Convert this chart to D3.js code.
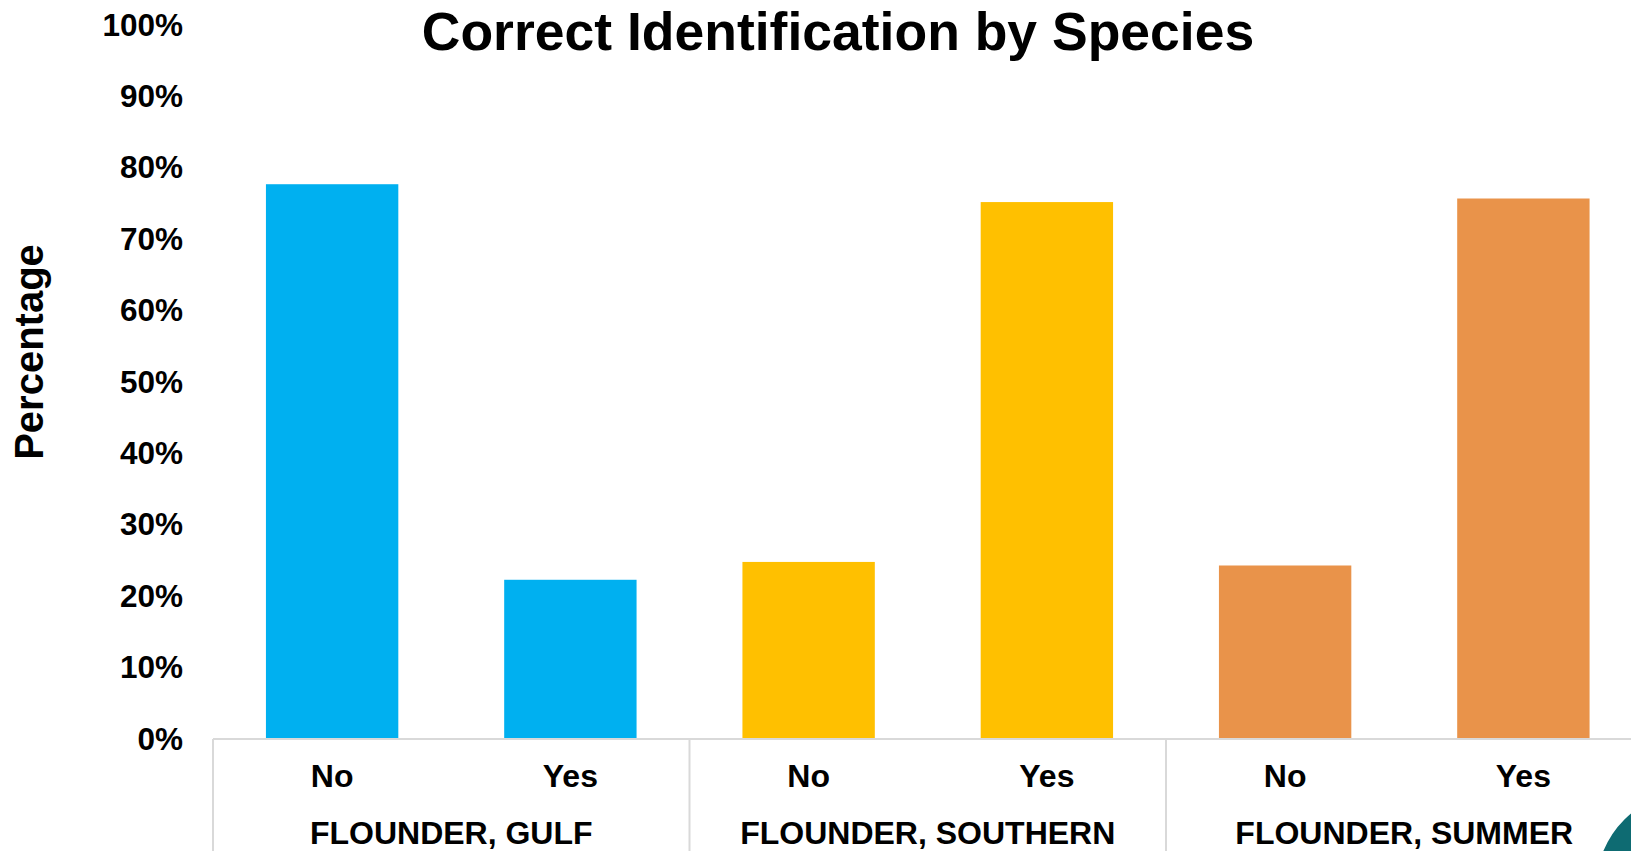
<!DOCTYPE html>
<html>
<head>
<meta charset="utf-8">
<script src="https://cdn.jsdelivr.net/npm/d3@7"></script>
<style>
  html, body { margin: 0; padding: 0; background: #fff; overflow: hidden; }
  svg text { font-family: "Liberation Sans", Arial, sans-serif; font-weight: bold; fill: #000; }
</style>
</head>
<body>
<script>
var width = 1631;
var height = 851;

// data
var species = ["FLOUNDER, GULF", "FLOUNDER, SOUTHERN", "FLOUNDER, SUMMER"];
var answers = ["No", "Yes"];
var gulfValues = [77.7, 22.3];
var southernValues = [24.8, 75.2];
var summerValues = [24.3, 75.7];
var speciesColors = ["#00B0F0", "#FFC000", "#E9934A"];
var yTicks = [0, 10, 20, 30, 40, 50, 60, 70, 80, 90, 100];

var seriesValues = [gulfValues, southernValues, summerValues];
var rows = [];
species.forEach(function (s, i) {
    answers.forEach(function (a, j) {
        rows.push({species: s, answer: a, value: seriesValues[i][j], color: speciesColors[i]});
    });
});

var left = 213;
var groupWidth = 476.5;
var axisY = 739;

var svg = d3.select("body").append("svg").attr("width", width).attr("height", height);

var x0 = d3.scaleBand().domain(species).range([left, left + groupWidth * species.length]).padding(0);
var x1 = d3.scaleBand().domain(answers).range([0, x0.bandwidth()]).paddingInner(0.4444).paddingOuter(0.2222);
var y = d3.scaleLinear().domain([0, 100]).range([axisY, 25]);

// bars
svg.selectAll("rect.bar")
    .data(rows)
    .enter()
    .append("rect")
    .attr("class", "bar")
    .attr("x", function (d) { return x0(d.species) + x1(d.answer); })
    .attr("y", function (d) { return y(d.value); })
    .attr("width", x1.bandwidth())
    .attr("height", function (d) { return y(0) - y(d.value); })
    .style("fill", function (d) { return d.color; });

// y axis (labels only)
var yAxis = svg.append("g")
    .attr("transform", "translate(" + left + ",0)")
    .call(d3.axisLeft(y).tickValues(yTicks).tickSize(0).tickPadding(30).tickFormat(function (d) { return d + "%"; }));
yAxis.select(".domain").remove();
yAxis.selectAll("text")
    .style("font-size", "31.5px")
    .style("font-family", "'Liberation Sans', Arial, sans-serif")
    .style("font-weight", "bold")
    .attr("fill", "#000");

// x axis line and group dividers
svg.append("line")
    .attr("x1", left).attr("x2", width)
    .attr("y1", axisY).attr("y2", axisY)
    .style("stroke", "#D9D9D9").style("stroke-width", 2);

var dividers = species.map(function (s) { return x0(s); });
svg.selectAll("line.divider")
    .data(dividers)
    .enter()
    .append("line")
    .attr("class", "divider")
    .attr("x1", function (d) { return d; }).attr("x2", function (d) { return d; })
    .attr("y1", axisY).attr("y2", height)
    .style("stroke", "#D9D9D9").style("stroke-width", 2);

// answer labels
svg.selectAll("text.answer")
    .data(rows)
    .enter()
    .append("text")
    .attr("class", "answer")
    .attr("x", function (d) { return x0(d.species) + x1(d.answer) + x1.bandwidth() / 2; })
    .attr("y", 787)
    .attr("text-anchor", "middle")
    .style("font-size", "32px")
    .text(function (d) { return d.answer; });

// species labels
svg.selectAll("text.species")
    .data(species)
    .enter()
    .append("text")
    .attr("class", "species")
    .attr("x", function (d) { return x0(d) + x0.bandwidth() / 2; })
    .attr("y", 844)
    .attr("text-anchor", "middle")
    .style("font-size", "32px")
    .text(function (d) { return d; });

// title
svg.append("text")
    .attr("x", 838)
    .attr("y", 50)
    .attr("text-anchor", "middle")
    .style("font-size", "53.5px")
    .text("Correct Identification by Species");

// y axis title
svg.append("text")
    .attr("transform", "translate(43,352) rotate(-90)")
    .attr("text-anchor", "middle")
    .style("font-size", "40px")
    .text("Percentage");

// bit of the logo peeking in at the corner
svg.append("circle")
    .attr("cx", 1693).attr("cy", 888).attr("r", 83)
    .style("fill", "none")
    .style("stroke", "#0E6B72")
    .style("stroke-width", 28);
</script>
</body>
</html>
